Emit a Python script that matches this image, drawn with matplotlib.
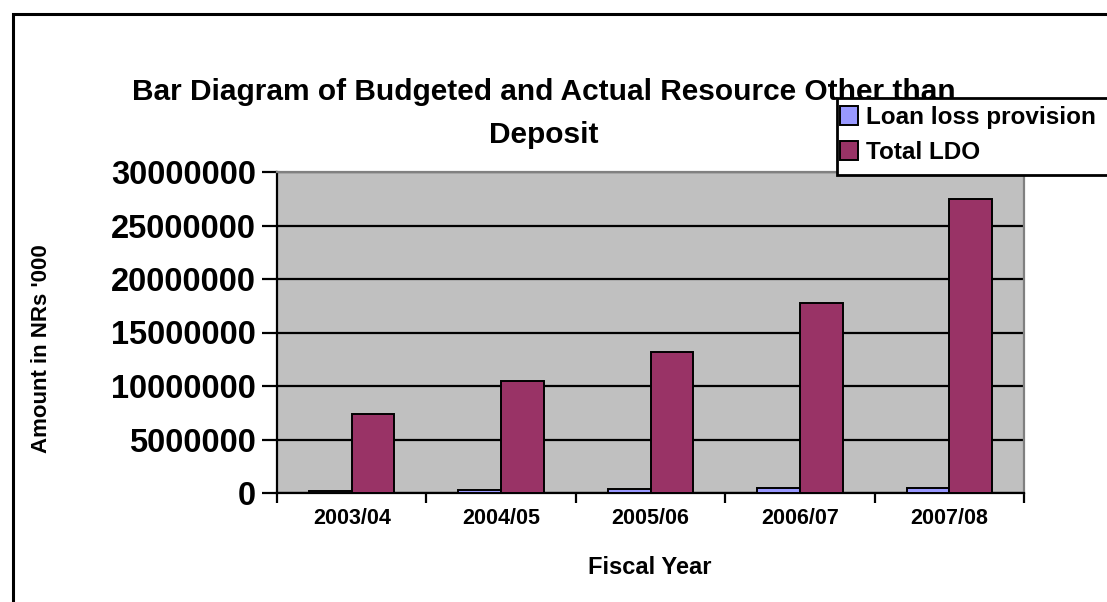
import matplotlib
matplotlib.use("Agg")
import matplotlib.pyplot as plt
import numpy as np
from matplotlib.patches import Rectangle, Patch

plt.rcParams['font.family'] = ['Liberation Sans', 'DejaVu Sans']
plt.rcParams['font.weight'] = 'bold'

fiscal_years = ["2003/04", "2004/05", "2005/06", "2006/07", "2007/08"]
loan_loss_provision = [180000, 300000, 350000, 440000, 510000]
total_ldo = [7380000, 10460000, 13190000, 17770000, 27520000]
y_ticks = [0, 5000000, 10000000, 15000000, 20000000, 25000000, 30000000]

W, H = 1107, 602
fig = plt.figure(figsize=(W / 100, H / 100), dpi=100)
fig.patch.set_facecolor("white")

# outer chart border (runs off the right and bottom edges)
fig.add_artist(Rectangle((12.5 / W, -0.05), 1.2, (1 - 13.5 / H) + 0.05,
                         transform=fig.transFigure, fill=False,
                         edgecolor="black", linewidth=2.2, zorder=0))

ax = fig.add_axes([277 / W, 1 - 493 / H, (1024 - 277) / W, (493 - 172) / H])
ax.set_facecolor("#C0C0C0")

x = np.arange(len(fiscal_years))
bw = 1 / 3.5
ax.bar(x - bw / 2, loan_loss_provision, bw, color="#9999FF",
       edgecolor="black", linewidth=1.4, zorder=3)
ax.bar(x + bw / 2, total_ldo, bw, color="#993366",
       edgecolor="black", linewidth=1.4, zorder=3)

ax.set_xlim(-0.5, len(fiscal_years) - 0.5)
ax.set_ylim(0, 30000000)
ax.set_yticks(y_ticks)
ax.set_yticklabels([str(v) for v in y_ticks], fontsize=23.5, fontweight="bold")
ax.yaxis.grid(True, color="black", linewidth=1.6, zorder=1)
ax.set_axisbelow(True)

ax.set_xticks(np.arange(len(fiscal_years) + 1) - 0.5)
ax.set_xticklabels([])
ax.set_xticks(x, minor=True)
ax.set_xticklabels(fiscal_years, minor=True, fontsize=15.5, fontweight="bold")
ax.tick_params(axis="x", which="minor", length=0, pad=11)
ax.tick_params(axis="x", which="major", length=7, width=1.6, direction="out")
ax.tick_params(axis="y", length=11, width=1.6, direction="out", pad=4)

for side in ("top", "right"):
    ax.spines[side].set_color("#808080")
    ax.spines[side].set_linewidth(1.6)
for side in ("left", "bottom"):
    ax.spines[side].set_color("black")
    ax.spines[side].set_linewidth(1.6)

fig.text(544 / W, 1 - 92 / H, "Bar Diagram of Budgeted and Actual Resource Other than",
         ha="center", va="center", fontsize=21.5, fontweight="bold")
fig.text(544 / W, 1 - 135 / H, "Deposit",
         ha="center", va="center", fontsize=21.5, fontweight="bold")
fig.text(650 / W, 1 - 567 / H, "Fiscal Year",
         ha="center", va="center", fontsize=17, fontweight="bold")
fig.text(42 / W, 1 - 349 / H, "Amount in NRs '000", rotation=90,
         ha="center", va="center", fontsize=16, fontweight="bold")

# legend box, open on the right where it runs past the figure edge
fig.add_artist(Rectangle((837 / W, 1 - 175 / H), 0.3, 77 / H,
                         transform=fig.transFigure, facecolor="white",
                         edgecolor="black", linewidth=2, zorder=9))
handles = [Patch(facecolor="#9999FF", edgecolor="black", linewidth=1.4),
           Patch(facecolor="#993366", edgecolor="black", linewidth=1.4)]
leg = fig.legend(handles, ["Loan loss provision", "Total LDO"],
                 loc="upper left", bbox_to_anchor=(840 / W, 1 - 106 / H),
                 frameon=False, prop={"size": 17.5, "weight": "bold"},
                 handlelength=0.75, handleheight=0.8, handletextpad=0.3,
                 borderpad=0.0, labelspacing=0.5, borderaxespad=0)
leg.set_zorder(10)

fig.savefig("out.png", dpi=100)
